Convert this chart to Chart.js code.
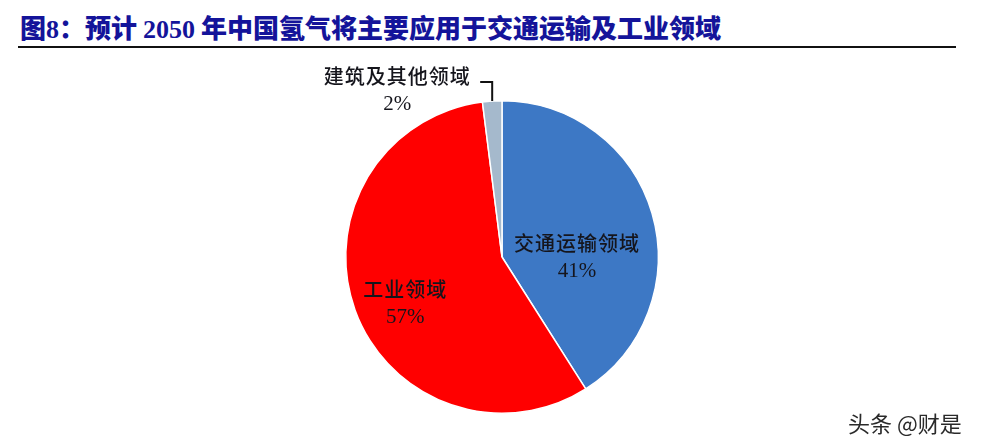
<!DOCTYPE html>
<html>
<head>
<meta charset="utf-8">
<script src="https://cdn.jsdelivr.net/npm/chart.js@4.4.1/dist/chart.umd.min.js"></script>
<style>
  html, body { margin: 0; padding: 0; background: #fff; }
  #wrap { position: relative; width: 992px; height: 444px; overflow: hidden; }
  #title {
    position: absolute; left: 20px; top: 12px;
    font-family: "Noto Sans CJK SC", "Liberation Serif", serif;
    font-weight: 900; font-size: 26px; color: #14149a; white-space: nowrap;
    line-height: 30px;
  }
  #title .num { font-family: "Liberation Serif", serif; font-weight: 700; }
  #rule { position: absolute; left: 18px; top: 46px; width: 938px; height: 2px; background: #111; }
  #mark {
    position: absolute; left: 848px; top: 406px;
    font-family: "Noto Sans CJK SC", sans-serif; font-size: 22px; color: #2a2a2a;
    text-shadow: 1px 1px 0 #fff;
  }
  canvas { position: absolute; left: 0; top: 0; }
</style>
</head>
<body>
<div id="wrap">
  <div id="title">图<span class="num">8</span>：预计 <span class="num">2050</span> 年中国氢气将主要应用于交通运输及工业领域</div>
  <div id="rule"></div>
  <canvas id="pie" width="992" height="444"></canvas>
  <div id="mark">头条 @财是</div>
</div>
<script>
  // slice order: clockwise from 12 o'clock
  const categories = ['交通运输领域', '工业领域', '建筑及其他领域'];
  const shares = [41, 57, 2];
  const sliceColors = ['#3d78c5', '#ff0000', '#a5b9cc'];

  // label placement, as fractions of the radius from the centre
  const labelSpots = [
    { dx: 0.48, dy: 0.0 },
    { dx: -0.62, dy: 0.30 },
    null // outside, with leader line
  ];

  const cnFont = '"Noto Sans CJK SC", sans-serif';
  const numFont = '"Liberation Serif", serif';

  const sliceLabels = {
    id: 'sliceLabels',
    afterDatasetsDraw(chart) {
      const ctx = chart.ctx;
      const arcs = chart.getDatasetMeta(0).data;
      ctx.save();
      ctx.fillStyle = '#15151c';
      ctx.textAlign = 'center';
      ctx.textBaseline = 'middle';
      arcs.forEach((arc, i) => {
        const r = arc.outerRadius;
        const cx = arc.x, cy = arc.y;
        let x, y;
        if (labelSpots[i]) {
          x = cx + labelSpots[i].dx * r;
          y = cy + labelSpots[i].dy * r;
        } else {
          const mid = (arc.startAngle + arc.endAngle) / 2;
          const ex = cx + Math.cos(mid) * r;
          const ey = cy + Math.sin(mid) * r;
          ctx.strokeStyle = '#111';
          ctx.lineWidth = 2;
          ctx.beginPath();
          ctx.moveTo(ex, ey);
          ctx.lineTo(ex, ey - 19);
          ctx.lineTo(ex - 12, ey - 19);
          ctx.stroke();
          x = ex - 95;
          y = ey - 11;
        }
        ctx.font = '500 20px ' + cnFont;
        ctx.letterSpacing = '1px';
        ctx.fillText(categories[i], x, y - 14);
        ctx.letterSpacing = '0px';
        ctx.font = '21px ' + numFont;
        ctx.fillText(shares[i] + '%', x, y + 14);
      });
      ctx.restore();
    }
  };

  new Chart(document.getElementById('pie'), {
    type: 'pie',
    data: {
      labels: categories,
      datasets: [{
        data: shares,
        backgroundColor: sliceColors,
        borderColor: '#ffffff',
        borderWidth: 1.5
      }]
    },
    options: {
      responsive: false,
      animation: false,
      layout: { padding: { left: 345, right: 333, top: 100, bottom: 30 } },
      plugins: {
        legend: { display: false },
        tooltip: { enabled: false }
      }
    },
    plugins: [sliceLabels]
  });
</script>
</body>
</html>
